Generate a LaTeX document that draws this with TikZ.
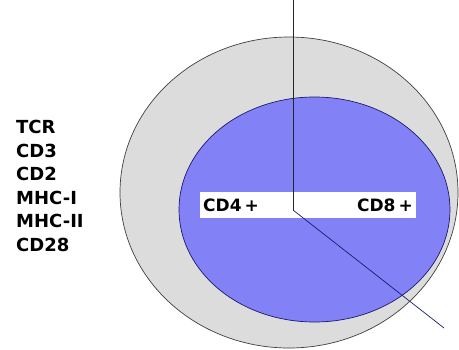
\documentclass[tikz,border=0pt]{standalone}
\usepackage{fontspec}
\setmainfont{DejaVu Sans}
\definecolor{outergray}{HTML}{DCDCDC}
\definecolor{innerblue}{HTML}{8282F6}
\definecolor{navyline}{HTML}{1A1A6E}
\begin{document}
\begin{tikzpicture}[x=1pt,y=-1pt,
  listlabel/.style={anchor=base west, inner sep=0pt, font=\bfseries\fontsize{18}{20}\selectfont},
  bandlabel/.style={inner sep=0pt, font=\bfseries\fontsize{17}{19}\selectfont}]
\useasboundingbox (0,0) rectangle (459,349);
\fill[white] (0,0) rectangle (459,349);
% cells
\draw[fill=outergray, draw=black!75, line width=0.7pt] (289,192.5) ellipse [x radius=169, y radius=155.5];
\draw[fill=innerblue, draw=navyline, line width=0.7pt] (314.5,209.5) ellipse [x radius=135.5, y radius=112.5];
% band
\node[fill=white, minimum width=216pt, minimum height=26pt, inner sep=0pt] (band) at (308,205) {};
% lines
\coordinate (top) at (293,0);
\coordinate (mid) at (293,210);
\coordinate (end) at (444,328);
\draw[black!85, line width=0.7pt] (top) -- (mid);
\draw[navyline, line width=0.7pt] (mid) -- (end);
% band labels
\node[bandlabel, anchor=base west] (cd4) at (203,211) {CD4\kern3pt+};
\node[bandlabel, anchor=base east] (cd8) at (413,211) {CD8\kern3pt+};
% list
\node[listlabel] (tcr) at (16,133.5) {TCR};
\node[listlabel] (cd3) at (16,157) {CD3};
\node[listlabel] (cd2) at (16,180.5) {CD2};
\node[listlabel] (mhc1) at (16,204) {MHC-I};
\node[listlabel] (mhc2) at (16,227.5) {MHC-II};
\node[listlabel] (cd28) at (16,251) {CD28};
\end{tikzpicture}
\end{document}
